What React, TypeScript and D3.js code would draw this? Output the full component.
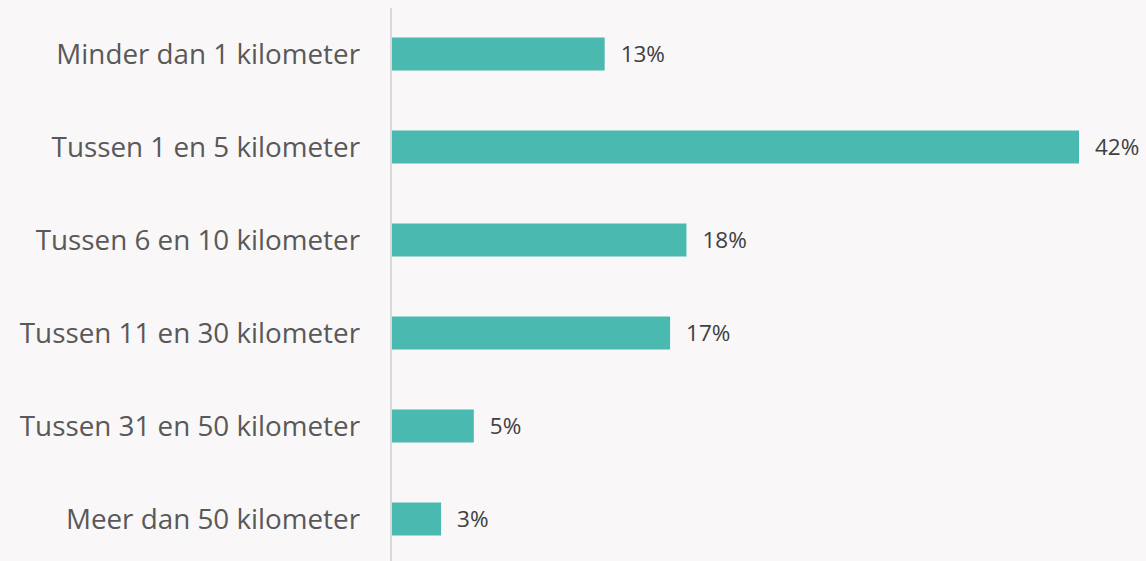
import React from "react";
import * as d3 from "d3";

const categories = [
  "Minder dan 1 kilometer",
  "Tussen 1 en 5 kilometer",
  "Tussen 6 en 10 kilometer",
  "Tussen 11 en 30 kilometer",
  "Tussen 31 en 50 kilometer",
  "Meer dan 50 kilometer",
];
const values = [13, 42, 18, 17, 5, 3];
const valueLabels = ["13%", "42%", "18%", "17%", "5%", "3%"];

const W = 1146;
const H = 561;
const x0 = 392;

export default function App() {
  const x = d3.scaleLinear().domain([0, 42]).range([x0, 1079]);
  const y = d3
    .scaleBand<string>()
    .domain(categories)
    .range([7.5, 565.5])
    .paddingInner(60 / 93)
    .paddingOuter(30 / 93);
  const font = "'Open Sans', sans-serif";
  return (
    <svg
      width={W}
      height={H}
      style={{ position: "absolute", left: 0, top: 0, background: "#f9f7f8" }}
    >
      <rect x={0} y={0} width={W} height={H} fill="#f9f7f8" />
      {categories.map((c, i) => {
        const yy = y(c)!;
        const bw = y.bandwidth();
        return (
          <g key={c}>
            <rect x={x0} y={yy} width={x(values[i]) - x0} height={bw} fill="#4ab9b0" />
            <text
              x={x(values[i]) + 16}
              y={yy + bw / 2}
              dy="0.36em"
              fontFamily={font}
              fontSize={22.5}
              fill="#404040"
            >
              {valueLabels[i]}
            </text>
            <text
              x={360}
              y={yy + bw / 2}
              dy="0.36em"
              textAnchor="end"
              fontFamily={font}
              fontSize={27.8}
              fill="#595959"
            >
              {c}
            </text>
          </g>
        );
      })}
      <line x1={391} x2={391} y1={8} y2={H} stroke="#d9d9d9" strokeWidth={2} />
    </svg>
  );
}
